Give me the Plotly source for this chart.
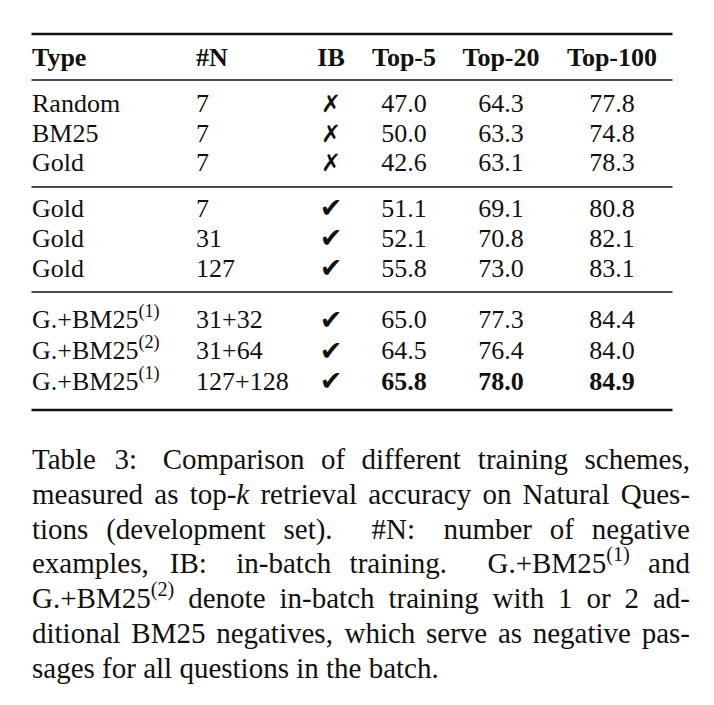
import re
import plotly.graph_objects as go

# ---------------- data ----------------
headers = ["Type", "#N", "IB", "Top-5", "Top-20", "Top-100"]
types = ["Random", "BM25", "Gold", "Gold", "Gold", "Gold",
         "G.+BM25<sup>(1)</sup>", "G.+BM25<sup>(2)</sup>", "G.+BM25<sup>(1)</sup>"]
num_neg = ["7", "7", "7", "7", "31", "127", "31+32", "31+64", "127+128"]
in_batch = [False, False, False, True, True, True, True, True, True]
top5 = [47.0, 50.0, 42.6, 51.1, 52.1, 55.8, 65.0, 64.5, 65.8]
top20 = [64.3, 63.3, 63.1, 69.1, 70.8, 73.0, 77.3, 76.4, 78.0]
top100 = [77.8, 74.8, 78.3, 80.8, 82.1, 83.1, 84.4, 84.0, 84.9]

caption_lines = [
    "Table 3: Comparison of different training schemes,",
    "measured as top-<i>k</i> retrieval accuracy on Natural Ques-",
    "tions (development set). #N: number of negative",
    "examples, IB: in-batch training. G.+BM25<sup>(1)</sup> and",
    "G.+BM25<sup>(2)</sup> denote in-batch training with 1 or 2 ad-",
    "ditional BM25 negatives, which serve as negative pas-",
    "sages for all questions in the batch.",
]

# ---------------- layout / style ----------------
W_PX, H_PX = 714, 705
PAGE_MARGIN = 8   # default body margin of the page
FONT = "Liberation Serif, Times New Roman, serif"
SYM_FONT = "DejaVu Sans"
TFS = 26          # table font size
CFS = 29          # caption font size
INK = "#111111"

header_cap = 57
row_caps = [103, 133, 162, 208, 238, 268, 319.5, 350.5, 381]
rules = [(34, 2.3), (80, 1.3), (187, 1.3), (292, 1.3), (410, 2.3)]
rule_x0, rule_x1 = 31.5, 672.5

col_x = {"type": 32, "neg": 196, "ib": 331, "t5": 404, "t20": 501, "t100": 612}

cap_left, cap_right = 32, 690
cap_first_baseline, cap_pitch = 469, 34.8


def y_of_cap(c, fs):
    # plotly 'middle' puts baseline at y + 0.25*fs; cap centre = baseline - 0.331*fs
    return c + 0.081 * fs


# Times (Liberation Serif) advance widths, 1/1000 em
TW = {' ': 250, '!': 333, '"': 408, '#': 500, '$': 500, '%': 833, '&': 778, "'": 333,
      '(': 333, ')': 333, '*': 500, '+': 564, ',': 250, '-': 333, '.': 250, '/': 278,
      ':': 278, ';': 278, '<': 564, '=': 564, '>': 564, '?': 444, '@': 921,
      'A': 722, 'B': 667, 'C': 667, 'D': 722, 'E': 611, 'F': 556, 'G': 722, 'H': 722,
      'I': 333, 'J': 389, 'K': 722, 'L': 611, 'M': 889, 'N': 722, 'O': 722, 'P': 556,
      'Q': 722, 'R': 667, 'S': 556, 'T': 611, 'U': 722, 'V': 722, 'W': 944, 'X': 722,
      'Y': 722, 'Z': 611, 'a': 444, 'b': 500, 'c': 444, 'd': 500, 'e': 444, 'f': 333,
      'g': 500, 'h': 500, 'i': 278, 'j': 278, 'k': 500, 'l': 278, 'm': 778, 'n': 500,
      'o': 500, 'p': 500, 'q': 500, 'r': 333, 's': 389, 't': 278, 'u': 500, 'v': 500,
      'w': 722, 'x': 500, 'y': 500, 'z': 444}
for d in "0123456789":
    TW[d] = 500


def text_width(s, fs):
    total, scale, italic = 0.0, 1.0, False
    for tok in re.split(r"(<[^>]+>)", s):
        if tok == "<sup>":
            scale = 0.7
        elif tok == "</sup>":
            scale = 1.0
        elif tok == "<i>":
            italic = True
        elif tok == "</i>":
            italic = False
        elif tok.startswith("<"):
            continue
        else:
            for ch in tok:
                w = 444 if (italic and ch == "k") else TW.get(ch, 500)
                total += w * scale
    return total * fs / 1000.0


def stretch_weight(word):
    plain = re.sub(r"<[^>]+>", "", word)
    if plain.endswith(".") or plain.endswith(")."):
        return 3.0
    if plain.endswith(":"):
        return 2.0
    if plain.endswith(","):
        return 1.25
    return 1.0


def layout_line(line, justify):
    words = line.split(" ")
    widths = [text_width(w, CFS) for w in words]
    nat = 0.25 * CFS
    weights = [stretch_weight(w) for w in words[:-1]]
    unit = 0.0
    if justify and weights:
        extra = (cap_right - cap_left) - sum(widths) - nat * len(weights)
        unit = extra / sum(weights)
    xs, x = [], cap_left
    for i, w in enumerate(words):
        xs.append(x)
        x += widths[i]
        if i < len(weights):
            x += nat + unit * weights[i]
    return words, xs


fig = go.Figure()

txt_font = dict(family=FONT, size=TFS, color=INK)

# header
hdr_x = [col_x[k] for k in ["type", "neg", "ib", "t5", "t20", "t100"]]
hdr_pos = ["middle right", "middle right", "middle center", "middle center",
           "middle center", "middle center"]
fig.add_trace(go.Scatter(
    x=hdr_x, y=[y_of_cap(header_cap, TFS)] * len(headers), mode="text",
    text=[f"<b>{h}</b>" for h in headers], textposition=hdr_pos,
    textfont=txt_font, hoverinfo="skip"))

row_y = [y_of_cap(c, TFS) for c in row_caps]

# Type and #N (left aligned)
fig.add_trace(go.Scatter(x=[col_x["type"]] * len(types), y=row_y, mode="text",
                         text=types, textposition="middle right",
                         textfont=txt_font, hoverinfo="skip"))
fig.add_trace(go.Scatter(x=[col_x["neg"]] * len(num_neg), y=row_y, mode="text",
                         text=num_neg, textposition="middle right",
                         textfont=txt_font, hoverinfo="skip"))

# IB marks
fig.add_trace(go.Scatter(x=[col_x["ib"]] * len(in_batch),
                         y=[y_of_cap(c, TFS) + 1 for c in row_caps], mode="text",
                         text=["<span style='font-size:27px'>✔</span>" if b
                               else "<b>✗</b>" for b in in_batch],
                         textposition="middle center",
                         textfont=dict(family=SYM_FONT, size=24, color=INK),
                         hoverinfo="skip"))

# numeric columns, best value in bold
for key, vals in [("t5", top5), ("t20", top20), ("t100", top100)]:
    best = max(vals)
    labels = [f"<b>{v:.1f}</b>" if v == best else f"{v:.1f}" for v in vals]
    fig.add_trace(go.Scatter(x=[col_x[key]] * len(vals), y=row_y, mode="text",
                             text=labels, textposition="middle center",
                             textfont=txt_font, hoverinfo="skip"))

# caption (justified word by word)
cx, cy, ct = [], [], []
for i, line in enumerate(caption_lines):
    words, xs = layout_line(line, justify=(i < len(caption_lines) - 1))
    base = cap_first_baseline + i * cap_pitch
    for w, x in zip(words, xs):
        cx.append(x)
        cy.append(base - 0.25 * CFS)
        ct.append(w)
fig.add_trace(go.Scatter(x=cx, y=cy, mode="text", text=ct, textposition="middle right",
                         textfont=dict(family=FONT, size=CFS, color=INK),
                         hoverinfo="skip"))

# horizontal rules
for y, lw in rules:
    fig.add_shape(type="line", xref="x", yref="y", x0=rule_x0, x1=rule_x1, y0=y, y1=y,
                  line=dict(color=INK, width=lw))

# the page body has an 8px margin: shrink the figure and offset the ranges so
# that data units equal window pixels
fig.update_xaxes(range=[PAGE_MARGIN, W_PX], visible=False, fixedrange=True)
fig.update_yaxes(range=[H_PX, PAGE_MARGIN], visible=False, fixedrange=True)
fig.update_layout(width=W_PX - PAGE_MARGIN, height=H_PX - PAGE_MARGIN,
                  margin=dict(l=0, r=0, t=0, b=0),
                  paper_bgcolor="white", plot_bgcolor="white", showlegend=False)

fig.write_html("out.html")
